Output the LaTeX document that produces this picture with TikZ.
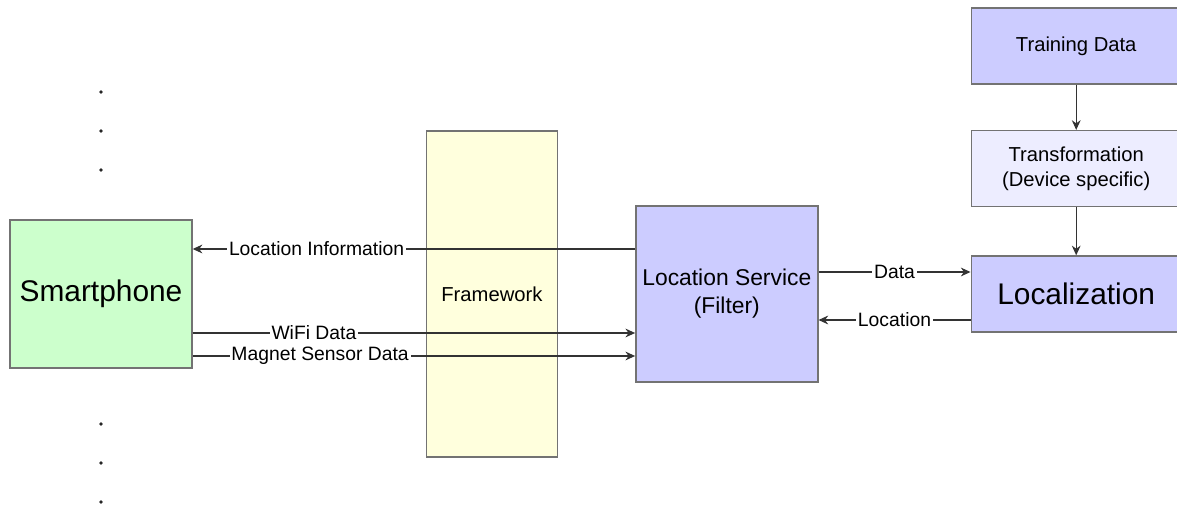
\documentclass[tikz,border=0pt]{standalone}
\usepackage{fontspec}
\setmainfont{Liberation Sans}
\usetikzlibrary{positioning, arrows.meta}

\definecolor{phonegreen}{HTML}{CCFFCC}
\definecolor{frameyellow}{HTML}{FFFFDD}
\definecolor{servblue}{HTML}{CCCCFF}
\definecolor{paleblue}{HTML}{EDEDFF}

\begin{document}
\begin{tikzpicture}[
    node distance=1cm,
    >={Stealth[length=5.5pt,width=5pt]},
    block/.style={rectangle, draw=black!55, line width=0.8pt, align=center, font=\fontsize{11.5}{14}\selectfont},
    phone/.style={block, fill=phonegreen, minimum width=3.64cm, minimum height=2.96cm, font=\fontsize{17}{20}\selectfont},
    layer/.style={block, fill=frameyellow, minimum width=2.62cm, minimum height=6.52cm},
    service/.style={block, fill=servblue, minimum width=3.64cm, minimum height=3.52cm, font=\fontsize{13}{16}\selectfont},
    stage/.style={block, fill=servblue, minimum width=4.2cm, minimum height=1.52cm},
    flow/.style={->, draw=black!80, line width=0.6pt},
    lbl/.style={fill=white, inner sep=1pt, font=\fontsize{11}{13}\selectfont}
]
\useasboundingbox (-2.02,5.88) rectangle (21.52,-4.28);

% Main blocks
\node[phone] (sp) {Smartphone};
\node[layer, right=4.66cm of sp] (fw) {Framework};
\node[service, right=1.54cm of fw] (ls) {Location Service\\(Filter)};
\node[stage, right=3.04cm of ls, font=\fontsize{17}{20}\selectfont] (loc) {Localization};
\node[stage, fill=paleblue, above=0.96cm of loc] (tf) {Transformation\\(Device specific)};
\node[stage, above=0.9cm of tf] (td) {Training Data};

% More devices
\foreach \dy in {4.04, 3.26, 2.48, -2.6, -3.38, -4.16}
    \fill[black!85] ([yshift=\dy cm]sp.center) circle (1.1pt);

% Connections
\draw[flow] ([yshift=0.9cm]ls.west) -- node[lbl, pos=0.72] {Location Information} ([yshift=0.9cm]sp.east);
\draw[flow] ([yshift=-0.78cm]sp.east) -- node[lbl, pos=0.274] {WiFi Data} ([yshift=-0.78cm]ls.west);
\draw[flow] ([yshift=-1.24cm]sp.east) -- node[lbl, pos=0.288] {Magnet Sensor Data} ([yshift=-1.24cm]ls.west);
\draw[flow] ([yshift=0.44cm]ls.east) -- node[lbl] {Data} ([yshift=0.44cm]loc.west);
\draw[flow] ([yshift=-0.52cm]loc.west) -- node[lbl] {Location} ([yshift=-0.52cm]ls.east);
\draw[flow] (td) -- (tf);
\draw[flow] (tf) -- (loc);

\end{tikzpicture}
\end{document}
